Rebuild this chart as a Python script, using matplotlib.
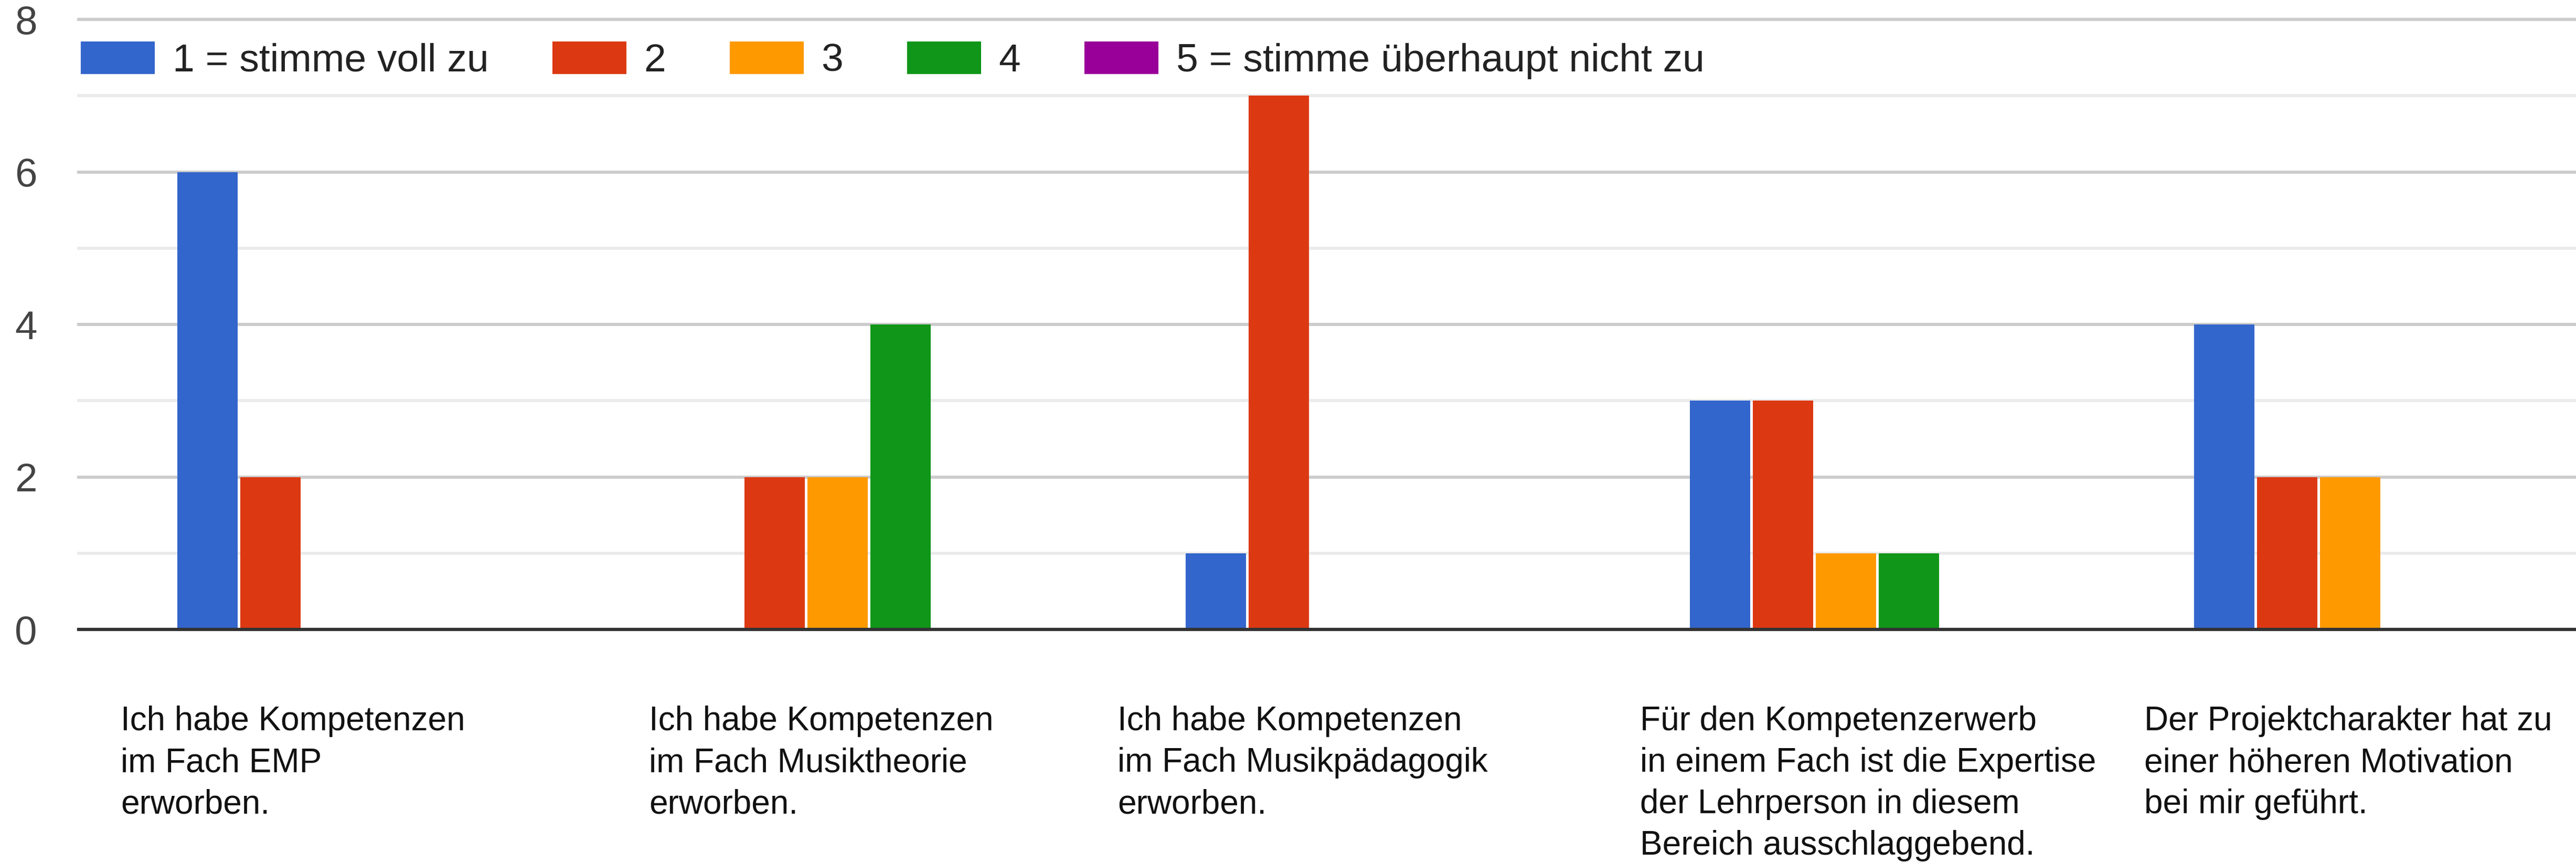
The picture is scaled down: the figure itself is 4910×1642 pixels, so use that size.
import matplotlib
matplotlib.use("Agg")
import matplotlib.pyplot as plt
from matplotlib.transforms import blended_transform_factory
import numpy as np

# ---------------- data ----------------
categories = [
    "Ich habe Kompetenzen\nim Fach EMP\nerworben.",
    "Ich habe Kompetenzen\nim Fach Musiktheorie\nerworben.",
    "Ich habe Kompetenzen\nim Fach Musikpädagogik\nerworben.",
    "Für den Kompetenzerwerb\nin einem Fach ist die Expertise\nder Lehrperson in diesem\nBereich ausschlaggebend.",
    "Der Projektcharakter hat zu\neiner höheren Motivation\nbei mir geführt.",
]
series_names = ["1 = stimme voll zu", "2", "3", "4", "5 = stimme überhaupt nicht zu"]
s1 = [6, 0, 1, 3, 4]
s2 = [2, 2, 7, 3, 2]
s3 = [0, 2, 0, 1, 2]
s4 = [0, 4, 0, 1, 0]
s5 = [0, 0, 0, 0, 0]
y_ticks = [0, 2, 4, 6, 8]
y_minor = [1, 3, 5, 7]

# ---------------- style / layout ----------------
colors = ["#3366cc", "#dc3912", "#ff9900", "#109618", "#990099"]
label_offsets = [-0.4214, -0.3736, -0.4443, -0.4079, -0.4079]
plt.rcParams['font.family'] = ['Liberation Sans', 'DejaVu Sans']

W, H, DPI = 4910, 1642, 100
fig = plt.figure(figsize=(W / DPI, H / DPI), dpi=DPI)
ax_left_px, ax_right_px = 150, 4910
ax_top_px, ax_bot_px = 37, 1199
ax = fig.add_axes([ax_left_px / W, 1 - ax_bot_px / H,
                   (ax_right_px - ax_left_px) / W, (ax_bot_px - ax_top_px) / H])

group_px = 961.0
pitch = 120 / group_px
width = 115 / group_px
x = np.arange(len(categories))
series = [s1, s2, s3, s4, s5]
for j, (vals, name, c) in enumerate(zip(series, series_names, colors)):
    ax.bar(x + (j - 2) * pitch, vals, width=width, color=c, label=name,
           zorder=3, linewidth=0)

ax.set_xlim((ax_left_px - 635) / group_px, (ax_right_px - 635) / group_px)
ax.set_ylim(0, 8)

# grid lines
for v in y_minor:
    ax.axhline(v, color="#ebebeb", lw=4.3, zorder=1, clip_on=False)
for v in y_ticks[1:]:
    ax.axhline(v, color="#cccccc", lw=4.3, zorder=1, clip_on=False)
ax.axhline(0, color="#333333", lw=4.5, zorder=4, clip_on=False)

for s in ax.spines.values():
    s.set_visible(False)
ax.set_xticks([])
ax.set_yticks(y_ticks)
ax.set_yticklabels([str(t) for t in y_ticks])
ax.tick_params(axis='y', length=0, pad=57, labelsize=55, labelcolor="#444444")

# category labels (left-aligned blocks below the axis)
trans = blended_transform_factory(ax.transData, fig.transFigure)
for i, (lab, off) in enumerate(zip(categories, label_offsets)):
    ax.text(i + off, 1 - 1344 / H, lab, transform=trans, ha='left',
            va='top', fontsize=46, color="#111111", linespacing=1.405,
            multialignment='left')

# legend
fig.legend(loc='center left', bbox_to_anchor=(154 / W, 1 - 115 / H),
           ncol=5, frameon=False, fontsize=54, handlelength=1.88,
           handleheight=0.9, handletextpad=0.45, columnspacing=1.62,
           borderpad=0, borderaxespad=0, labelcolor="#222222")

fig.savefig("out.png", dpi=DPI, facecolor="white")
